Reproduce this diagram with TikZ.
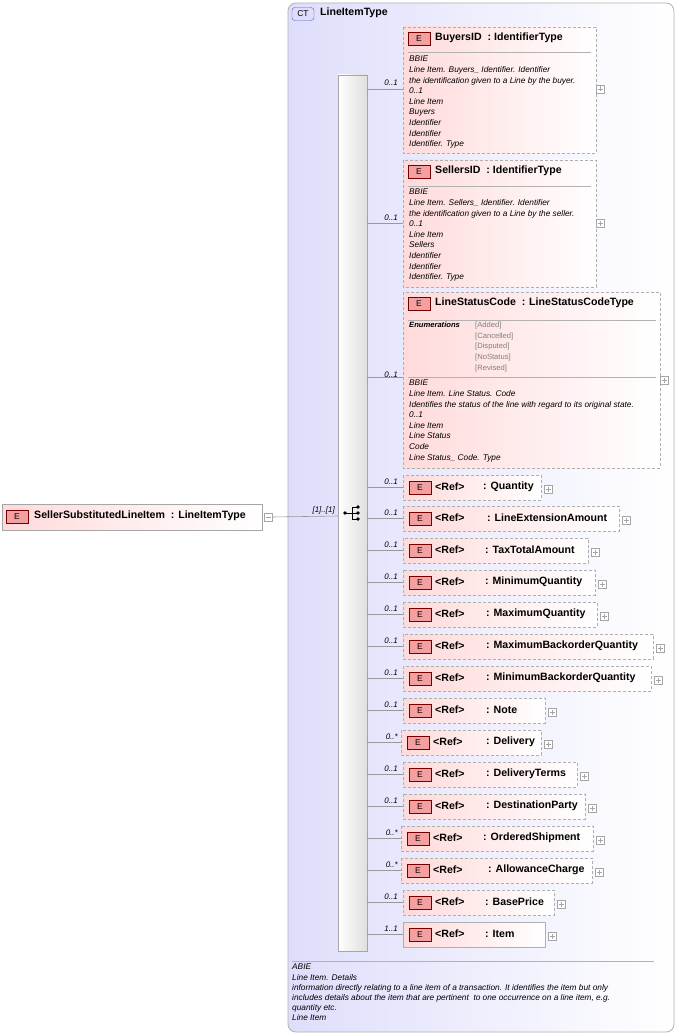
\documentclass[tikz,border=0pt]{standalone}
\usepackage{fontspec}
\setmainfont{Liberation Sans}
\usetikzlibrary{shadows,calc}
\definecolor{ctfill}{RGB}{222,222,252}
\definecolor{pinkE}{RGB}{255,218,218}
\definecolor{badge}{RGB}{245,160,160}
\definecolor{bord}{RGB}{175,175,175}
\tikzset{
 x=1pt,y=-1pt,
 elem/.style={draw=bord,left color=pinkE,right color=white,line width=0.8pt},
 opt/.style={elem,dashed,dash pattern=on 3pt off 2pt},
 ebadge/.style={draw=red!45!black,fill=badge,line width=0.5pt,inner sep=0pt,minimum width=22pt,minimum height=13pt,font=\fontsize{8.5}{9}\selectfont},
 lbl/.style={font=\bfseries\fontsize{10.6}{12}\selectfont,anchor=west,inner sep=0pt},
 card/.style={font=\itshape\fontsize{8}{8}\selectfont,anchor=base east,inner sep=0pt},
 doc/.style={font=\itshape\fontsize{8.3}{10.6}\selectfont,anchor=north west,inner sep=0pt,align=left},
 conn/.style={draw=gray!80,line width=0.6pt},
 plusbox/.style={draw=gray!70,fill=white,minimum size=8pt,inner sep=0pt,line width=0.4pt},
}
\newcommand{\pbox}[3]{\node[plusbox] (#1) at (#2,#3) {};\draw[gray!70,line width=0.4pt] ($(#1)+(-2.5,0)$)--($(#1)+(2.5,0)$) ($(#1)+(0,-2.5)$)--($(#1)+(0,2.5)$);}
\begin{document}
\begin{tikzpicture}
\useasboundingbox (0,0) rectangle (678,1035);
\fill[white] (0,0) rectangle (678,1035);
% CT box
\draw[draw=gray!60,left color=ctfill,right color=white,rounded corners=8pt,line width=0.8pt] (288,3) rectangle (674,1032);
\node[draw=blue!30!gray,fill=ctfill,rounded corners=3pt,inner sep=0pt,minimum width=22pt,minimum height=13pt,font=\fontsize{8.5}{9}\selectfont] (ct) at (303,14) {CT};
\node[lbl] (ctn) at (320,13) {LineItemType};
% sequence bar
\draw[draw=gray!70,left color=white,right color=gray!25,line width=0.7pt] (338,75) rectangle (367,951);
\coordinate (seqin) at (338,516);
% sequence icon
\draw[line width=0.8pt] (345,513)--(352,513) (352,507)--(352,519) (352,507)--(358,507) (352,513)--(358,513) (352,519)--(358,519);
\foreach \yy in {507,513,519} \fill (358,\yy) circle (1.8pt);
\fill (345,513) circle (1.8pt);
% left element
\draw[elem,draw=gray!70] (2,504) rectangle (262,530);
\node[ebadge] (le) at (17,517) {E};
\node[lbl] (ln) at (34,516) {SellerSubstitutedLineItem\ \ : LineItemType};
\node[plusbox] (lm) at (268,517) {};
\draw[gray!70,line width=0.4pt] (265.5,517)--(270.5,517);
\draw[conn] (lm.east) -- (seqin);
\node[card] at (335,512) {[1]..[1]};
% BuyersID
\draw[opt] (403,27) rectangle (596,153);
\node[ebadge] at (419,39) {E};
\node[lbl] at (435,38) {BuyersID\ \ : IdentifierType};
\draw[gray!60] (408,52)--(591,52);
\node[doc] at (409,56) {BBIE\\Line Item. Buyers\_ Identifier. Identifier\\the identification given to a Line by the buyer.\\0..1\\Line Item\\Buyers\\Identifier\\Identifier\\Identifier. Type};
\pbox{pb1}{600}{89}
\draw[conn] (367,89) -- (403,89); \node[card] at (398,86) {0..1};
% SellersID
\draw[opt] (403,160) rectangle (596,287);
\node[ebadge] at (419,172) {E};
\node[lbl] at (435,171) {SellersID\ \ : IdentifierType};
\draw[gray!60] (408,186)--(591,186);
\node[doc] at (409,189) {BBIE\\Line Item. Sellers\_ Identifier. Identifier\\the identification given to a Line by the seller.\\0..1\\Line Item\\Sellers\\Identifier\\Identifier\\Identifier. Type};
\pbox{pb2}{600}{223}
\draw[conn] (367,223) -- (403,223); \node[card] at (398,220) {0..1};
% LineStatusCode
\draw[opt] (403,292) rectangle (660,468);
\node[ebadge] at (419,304) {E};
\node[lbl] at (435,303) {LineStatusCode\ \ : LineStatusCodeType};
\draw[gray!60] (408,320)--(656,320);
\node[doc,font=\itshape\bfseries\fontsize{7.6}{9}\selectfont] at (409,322) {Enumerations};
\node[doc,font=\fontsize{7.6}{10.6}\selectfont,text=gray] at (475,322) {{[Added]}\\{}{[Cancelled]}\\{}{[Disputed]}\\{}{[NoStatus]}\\{}{[Revised]}};
\draw[gray!60] (408,377)--(656,377);
\node[doc] at (409,380) {BBIE\\Line Item. Line Status. Code\\Identifies the status of the line with regard to its original state.\\0..1\\Line Item\\Line Status\\Code\\Line Status\_ Code. Type};
\pbox{pb3}{664}{380}
\draw[conn] (367,377) -- (403,377); \node[card] at (398,377) {0..1};
% ref elements
\foreach \t/\r/\n/\c/\l/\s/\nx in {
 475/541/Quantity/0..1/403/opt/483,
 506/619/LineExtensionAmount/0..1/403/opt/487,
 538/588/TaxTotalAmount/0..1/403/opt/485,
 570/595/MinimumQuantity/0..1/403/opt/485,
 602/597/MaximumQuantity/0..1/403/opt/486,
 634/653/MaximumBackorderQuantity/0..1/403/opt/486,
 666/651/MinimumBackorderQuantity/0..1/403/opt/486,
 698/545/Note/0..1/403/opt/486,
 730/541/Delivery/0..*/401/opt/486,
 762/577/DeliveryTerms/0..1/403/opt/486,
 794/585/DestinationParty/0..1/403/opt/486,
 826/593/OrderedShipment/0..*/401/opt/483,
 858/592/AllowanceCharge/0..*/401/opt/488,
 890/554/BasePrice/0..1/403/opt/485,
 922/545/Item/1..1/403/elem/485}{
 \draw[\s] (\l,\t) rectangle (\r,\t+25);
 \node[ebadge] (b\t) at (\l+17,\t+13) {E};
 \node[lbl] (rf\t) at (\l+32,\t+12) {<Ref>};
 \node[lbl] (nm\t) at (\nx,\t+12) {: \n};
 \node[plusbox] (p\t) at (\r+7,\t+14) {};
 \draw[gray!70,line width=0.4pt] (\r+4.5,\t+14)--(\r+9.5,\t+14) (\r+7,\t+11.5)--(\r+7,\t+16.5);
 \draw[conn] (367,\t+12) -- (\l,\t+12);
 \node[card] at (398,\t+9) {\c};
}
% doc
\draw[gray!60] (292,961)--(654,961);
\node[doc,font=\itshape\fontsize{8.3}{10.2}\selectfont] at (292,964) {ABIE\\Line Item. Details\\information directly relating to a line item of a transaction. It identifies the item but only\\includes details about the item that are pertinent\ \ to one occurrence on a line item, e.g.\\quantity etc.\\Line Item};
\end{tikzpicture}
\end{document}
